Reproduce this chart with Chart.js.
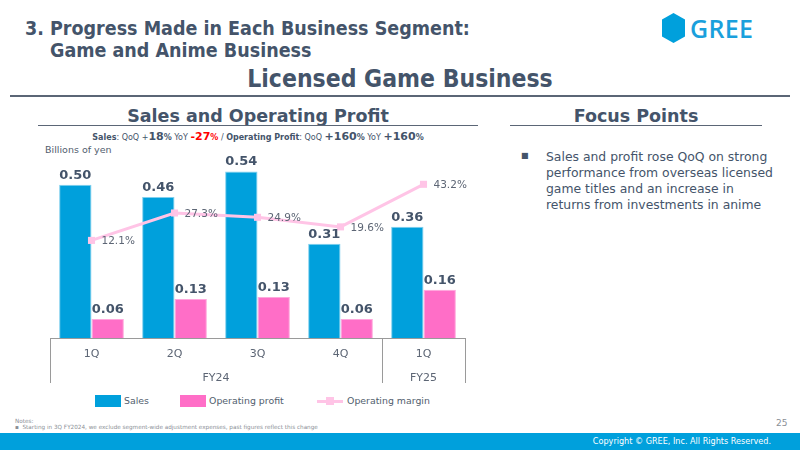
<!DOCTYPE html>
<html>
<head>
<meta charset="utf-8">
<script src="https://cdn.jsdelivr.net/npm/chart.js@4"></script>
<style>
  body { margin: 0; background: #fff; }
  #page { position: relative; width: 800px; height: 450px; overflow: hidden; font-family: "DejaVu Sans", Verdana, sans-serif; color: #44546A; }
  .abs { position: absolute; white-space: nowrap; }
  .cond { font-family: "DejaVu Sans Condensed", "DejaVu Sans", sans-serif; font-weight: bold; }
  .hline { position: absolute; height: 0; border-top: 2px solid #5B6676; }
  .sw { position: absolute; width: 26px; height: 12px; }
  .lg { position: absolute; font-size: 9.4px; color: #525E6E; }
</style>
</head>
<body>
<div id="page">
  <div class="abs cond" style="left:25px; top:18px; font-size:19.5px; line-height:22px;">3. Progress Made in Each Business Segment:<br><span style="padding-left:25px">Game and Anime Business</span></div>

  <svg class="abs" style="left:660px; top:12px" width="30" height="34">
    <polygon points="13.5,1 25,7.5 25,24.5 13.5,31 2,24.5 2,7.5" fill="#00A0DC"/>
  </svg>
  <div class="abs" style="left:690px; top:11px; font-family:'Open Sans', sans-serif; font-size:25px; font-weight:600; color:#1AA0DC; letter-spacing:0.3px;">GREE</div>

  <div class="abs cond" style="left:0; width:800px; text-align:center; top:64px; font-size:24.5px;">Licensed Game Business</div>
  <div class="hline" style="left:10px; width:780px; top:95px;"></div>

  <div class="abs" style="left:38px; width:440px; text-align:center; top:106px; font-size:17.5px; font-weight:bold;">Sales and Operating Profit</div>
  <div class="hline" style="left:38px; width:440px; top:125px; border-top-width:1.5px;"></div>

  <div class="abs" style="left:38px; width:440px; text-align:center; top:130px; font-size:8px; color:#44546A;">
    <b>Sales</b>: QoQ +<b style="font-size:11px">18</b><b>%</b> YoY <b style="color:#FF0000"><span style="font-size:11px">-27</span>%</b> / <b>Operating Profit</b>: QoQ <b><span style="font-size:11px">+160</span>%</b> YoY <b><span style="font-size:11px">+160</span>%</b>
  </div>
  <div class="abs" style="left:45px; top:144px; font-size:9.5px; color:#525E6E;">Billions of yen</div>

  <div class="abs" style="left:510px; width:252px; text-align:center; top:106px; font-size:17.5px; font-weight:bold;">Focus Points</div>
  <div class="hline" style="left:510px; width:252px; top:125px; border-top-width:1.5px;"></div>
  <div class="abs" style="left:521px; top:151px; font-size:8px;">&#9632;</div>
  <div class="abs" style="left:546px; top:149px; font-size:12.4px; line-height:16px;">Sales and profit rose QoQ on strong<br>performance from overseas licensed<br>game titles and an increase in<br>returns from investments in anime</div>

  <div class="abs" style="left:0; top:140px; width:500px; height:250px;"><canvas id="chart"></canvas></div>

  <div class="sw" style="left:95px; top:395px; background:#00A0DC;"></div>
  <div class="lg" style="left:124px; top:395px;">Sales</div>
  <div class="sw" style="left:180px; top:395px; background:#FF6EC7;"></div>
  <div class="lg" style="left:209px; top:395px;">Operating profit</div>
  <div class="abs" style="left:317px; top:400px; width:26px; height:3px; background:#FFC4E6;"></div>
  <div class="abs" style="left:326px; top:397px; width:8px; height:8px; background:#FFC4E6;"></div>
  <div class="lg" style="left:347px; top:395px;">Operating margin</div>

  <div class="abs" style="left:15px; top:418px; font-size:5.7px; color:#8A8F96;">Notes:<br>&#9642;&nbsp;&nbsp;Starting in 3Q FY2024, we exclude segment-wide adjustment expenses, past figures reflect this change</div>
  <div class="abs" style="left:776px; top:418px; font-size:9px; color:#8A8F96;">25</div>

  <div class="abs" style="left:0; top:433px; width:800px; height:17px; background:#00A0DC;"></div>
  <div class="abs" style="right:29px; top:436px; font-size:9px; color:#fff; font-family:'DejaVu Sans Condensed', sans-serif;">Copyright © GREE, Inc. All Rights Reserved.</div>
</div>

<script>
const quarters = ['1Q', '2Q', '3Q', '4Q', '1Q'];
const fiscalYears = ['FY24', 'FY24', 'FY24', 'FY24', 'FY25'];
const sales = [0.50, 0.46, 0.543, 0.307, 0.363];
const operatingProfit = [0.062, 0.127, 0.134, 0.062, 0.157];
const operatingMargin = [12.1, 27.3, 24.9, 19.6, 43.2];

const BLUE = '#00A0DC';
const PINK = '#FF6EC7';
const LIGHT_PINK = '#FFC4E6';
const TEXT = '#44546A';

// value labels + two-level category axis drawn from the scales
const labelsPlugin = {
    id: 'labels',
    afterDatasetsDraw(chart) {
        const ctx = chart.ctx;
        const area = chart.chartArea;
        const xs = chart.scales.x;
        ctx.save();

        // bar values
        ctx.font = 'bold 13px "DejaVu Sans"';
        ctx.fillStyle = TEXT;
        ctx.textAlign = 'center';
        ctx.textBaseline = 'alphabetic';
        [0, 1].forEach(function(di) {
            const meta = chart.getDatasetMeta(di);
            const vals = chart.data.datasets[di].data;
            meta.data.forEach(function(bar, i) {
                ctx.fillText(vals[i].toFixed(2), bar.x, bar.y - 6);
            });
        });

        // margin labels
        ctx.font = '10.5px "DejaVu Sans"';
        ctx.fillStyle = '#5D6675';
        ctx.textAlign = 'left';
        ctx.textBaseline = 'middle';
        const lm = chart.getDatasetMeta(2);
        lm.data.forEach(function(pt, i) {
            ctx.fillText(operatingMargin[i].toFixed(1) + '%', pt.x + 10, pt.y + 1);
        });

        // axis frame
        const bottom = area.bottom;
        const depth = 45;
        const split = (xs.getPixelForValue(3) + xs.getPixelForValue(4)) / 2;
        ctx.strokeStyle = '#9A9A9A';
        ctx.lineWidth = 1;
        ctx.beginPath();
        ctx.moveTo(area.left, bottom + 0.5);
        ctx.lineTo(area.right, bottom + 0.5);
        [area.left, split, area.right].forEach(function(x) {
            ctx.moveTo(Math.round(x) + 0.5, bottom);
            ctx.lineTo(Math.round(x) + 0.5, bottom + depth);
        });
        ctx.stroke();

        ctx.font = '11px "DejaVu Sans"';
        ctx.fillStyle = '#5D6675';
        ctx.textAlign = 'center';
        quarters.forEach(function(q, i) {
            ctx.fillText(q, xs.getPixelForValue(i), bottom + 16);
        });
        ctx.fillText(fiscalYears[0], (area.left + split) / 2, bottom + 40);
        ctx.fillText(fiscalYears[4], (split + area.right) / 2, bottom + 40);
        ctx.restore();
    }
};

new Chart(document.getElementById('chart'), {
    type: 'bar',
    data: {
        labels: quarters,
        datasets: [
            { label: 'Sales', data: sales, backgroundColor: BLUE, borderColor: '#7FD0EE', borderWidth: { top: 1, left: 1, right: 1 }, yAxisID: 'y', order: 1 },
            { label: 'Operating profit', data: operatingProfit, backgroundColor: PINK, borderColor: '#FFA8DD', borderWidth: { top: 1, left: 1, right: 1 }, yAxisID: 'y', order: 1 },
            { type: 'line', label: 'Operating margin', data: operatingMargin, borderColor: LIGHT_PINK, backgroundColor: LIGHT_PINK,
              borderWidth: 3, pointStyle: 'rect', pointRadius: 5, pointBorderWidth: 0, yAxisID: 'y2', order: 0 }
        ]
    },
    options: {
        responsive: true,
        maintainAspectRatio: false,
        animation: false,
        layout: { padding: { left: 50, right: 35, top: 14, bottom: 52 } },
        datasets: { bar: { categoryPercentage: 0.78, barPercentage: 1.0 } },
        scales: {
            x: { display: false },
            y: { display: false, min: 0, max: 0.6 },
            y2: { display: false, min: -42, max: 60 }
        },
        plugins: { legend: { display: false }, tooltip: { enabled: false } }
    },
    plugins: [labelsPlugin]
});
</script>
</body>
</html>
